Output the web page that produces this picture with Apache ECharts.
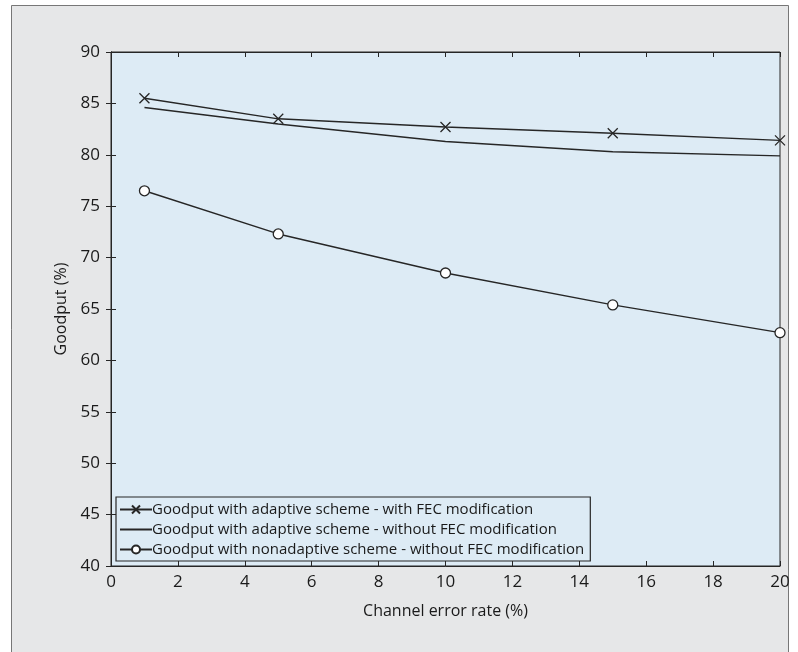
<!DOCTYPE html>
<html>
<head>
<meta charset="utf-8">
<script src="https://cdn.jsdelivr.net/npm/echarts@6/dist/echarts.min.js"></script>
<style>
  html, body { margin: 0; padding: 0; background: #fff; }
  #chart { width: 798px; height: 652px; }
</style>
</head>
<body>
<div id="chart"></div>
<script>
// channel error rate (%)
var errRate = [1, 5, 10, 15, 20];
// goodput (%) per scheme
var adaptiveFec = [85.5, 83.5, 82.7, 82.1, 81.4];
var adaptiveNoFec = [84.6, 83.0, 81.3, 80.3, 79.9];
var nonAdaptive = [76.5, 72.3, 68.5, 65.4, 62.7];
var seriesNames = [
    'Goodput with adaptive scheme - with FEC modification',
    'Goodput with adaptive scheme - without FEC modification',
    'Goodput with nonadaptive scheme - without FEC modification'
];

function pairs(ys) {
    return ys.map(function (y, i) { return [errRate[i], y]; });
}

var ink = '#262626';
var txt = '#1a1a1a';
var font = 'Open Sans';
var crossPath = 'path://M0,0L10,10M10,0L0,10';

var chart = echarts.init(document.getElementById('chart'));
var tickInside = { show: true, inside: true, length: 5, lineStyle: { color: ink, width: 1 } };

var option = {
    animation: false,
    textStyle: { fontFamily: font },
    graphic: [{
        type: 'rect',
        z: -10,
        shape: { x: 11.5, y: 5.5, width: 777, height: 660 },
        style: { fill: '#e6e7e8', stroke: '#777', lineWidth: 1 }
    }],
    grid: {
        left: 111, top: 52, width: 669, height: 514,
        show: true, backgroundColor: '#ddebf5', borderColor: ink, borderWidth: 1
    },
    xAxis: [{
        type: 'value', min: 0, max: 20, interval: 2, position: 'bottom',
        name: 'Channel error rate (%)', nameLocation: 'middle', nameGap: 37,
        nameTextStyle: { color: txt, fontSize: 16, fontFamily: font },
        axisLine: { show: true, lineStyle: { color: ink } },
        axisTick: tickInside,
        axisLabel: { color: txt, fontSize: 17, margin: 8 },
        splitLine: { show: false }
    }, {
        type: 'value', min: 0, max: 20, interval: 2, position: 'top',
        axisLine: { show: true, lineStyle: { color: ink } },
        axisTick: tickInside, axisLabel: { show: false }, splitLine: { show: false }
    }],
    yAxis: [{
        type: 'value', min: 40, max: 90, interval: 5, position: 'left',
        name: 'Goodput (%)', nameLocation: 'middle', nameGap: 39,
        nameTextStyle: { color: txt, fontSize: 16, fontFamily: font },
        axisLine: { show: true, lineStyle: { color: ink } },
        axisTick: tickInside,
        axisLabel: { color: txt, fontSize: 17, margin: 11 },
        splitLine: { show: false }
    }, {
        type: 'value', min: 40, max: 90, interval: 5, position: 'right',
        axisLine: { show: true, lineStyle: { color: ink } },
        axisTick: tickInside, axisLabel: { show: false }, splitLine: { show: false }
    }],
    legend: {
        left: 116, top: 497,
        orient: 'vertical',
        itemGap: 5, itemWidth: 32, itemHeight: 10,
        padding: [5, 6, 4, 3],
        backgroundColor: '#ddebf5', borderColor: ink, borderWidth: 1.2,
        textStyle: { color: txt, fontSize: 15, fontFamily: font, padding: [0, 0, 0, -5] },
        data: [
            { name: seriesNames[0] },
            { name: seriesNames[1], itemStyle: { opacity: 0 } },
            { name: seriesNames[2] }
        ]
    },
    series: [{
        name: seriesNames[0], type: 'line', data: pairs(adaptiveFec),
        symbol: crossPath, symbolSize: 10,
        itemStyle: { color: 'transparent', borderColor: ink, borderWidth: 1.3 },
        lineStyle: { color: ink, width: 1.4 }
    }, {
        name: seriesNames[1], type: 'line', data: pairs(adaptiveNoFec),
        symbol: 'none',
        itemStyle: { color: ink },
        lineStyle: { color: ink, width: 1.4 }
    }, {
        name: seriesNames[2], type: 'line', data: pairs(nonAdaptive),
        symbol: 'circle', symbolSize: 10,
        itemStyle: { color: '#fff', borderColor: ink, borderWidth: 1.3 },
        lineStyle: { color: ink, width: 1.4 }
    }]
};
chart.setOption(option);
</script>
</body>
</html>
